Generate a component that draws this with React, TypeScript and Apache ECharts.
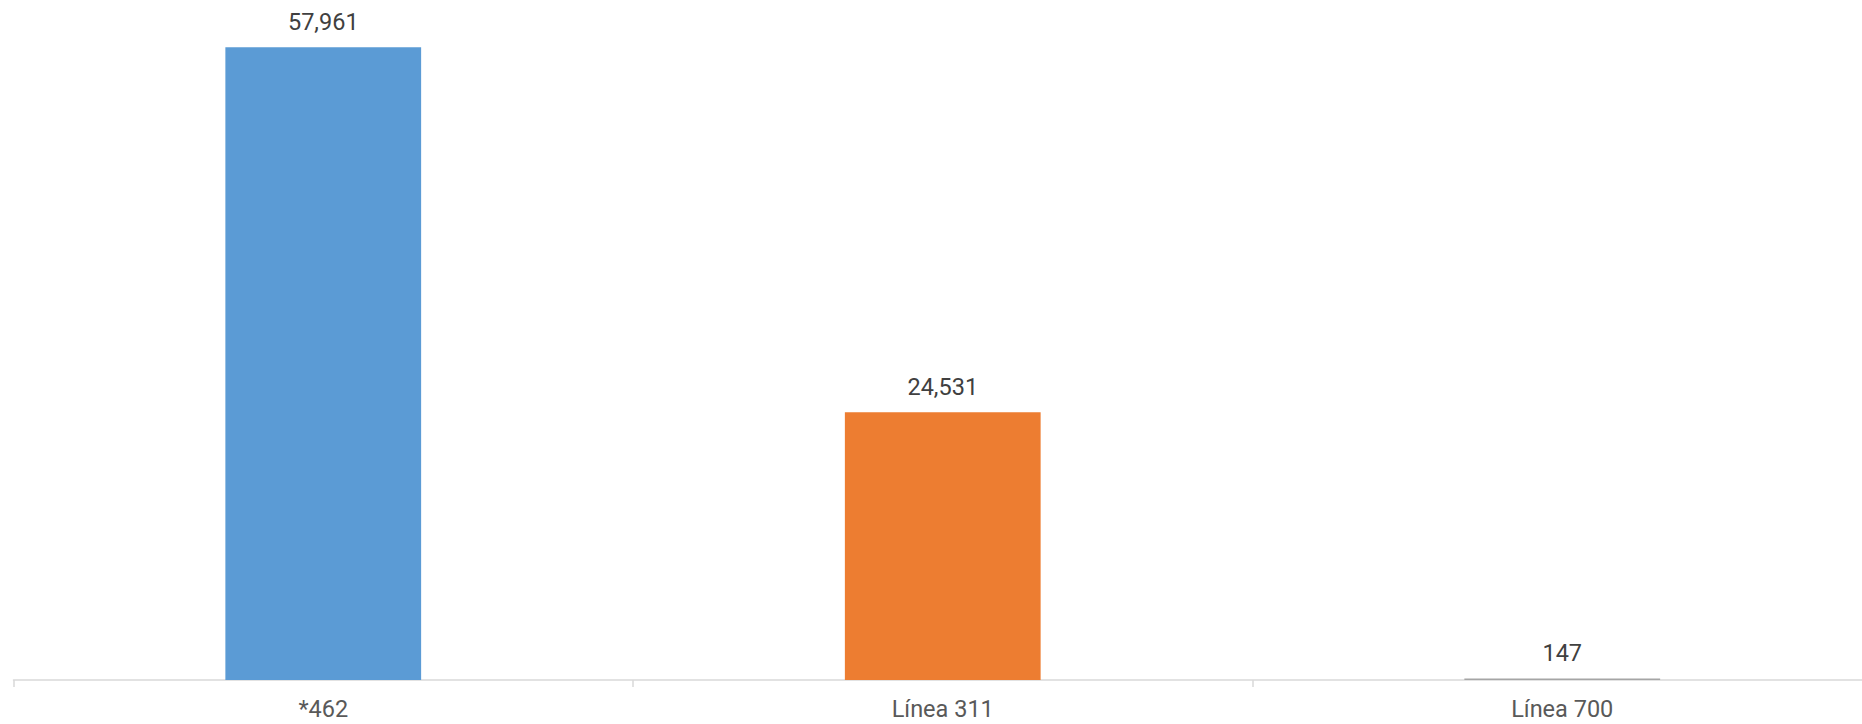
import React, { useEffect, useRef } from "react";
import * as echarts from "echarts";

const categories = ["*462", "Línea 311", "Línea 700"];
const values = [57961, 24531, 147];
const barColors = ["#5b9bd5", "#ed7d31", "#a5a5a5"];

export default function App() {
  const ref = useRef<HTMLDivElement>(null);
  useEffect(() => {
    const chart = echarts.init(ref.current!, null, { renderer: "svg" });
    chart.setOption({
      animation: false,
      grid: { left: 13.5, right: 0, top: 25, bottom: 44, containLabel: false },
      xAxis: {
        type: "category",
        data: categories,
        axisLine: { show: true, lineStyle: { color: "#d9d9d9", width: 1.5 } },
        axisTick: { show: true, length: 7, lineStyle: { color: "#d9d9d9", width: 1.5 } },
        axisLabel: { color: "#595959", fontSize: 23.5, fontFamily: "Roboto", margin: 17 },
      },
      yAxis: {
        type: "value",
        min: 0,
        max: 60000,
        show: false,
        splitLine: { show: false },
      },
      series: [
        {
          type: "bar",
          barWidth: "31.6%",
          data: values.map((v, i) => ({ value: v, itemStyle: { color: barColors[i] } })),
          label: {
            show: true,
            position: "top",
            distance: 13,
            color: "#404040",
            fontSize: 23.5,
            fontFamily: "Roboto",
            formatter: (p: any) => Number(p.value).toLocaleString("en-US"),
          },
        },
      ],
    });
    return () => chart.dispose();
  }, []);
  return (
    <div style={{ position: "fixed", left: 0, top: 0, width: 1862, height: 724, overflow: "hidden", background: "#fff" }}>
      <div ref={ref} style={{ position: "absolute", left: 0, top: 0, width: 1872, height: 724 }} />
    </div>
  );
}
